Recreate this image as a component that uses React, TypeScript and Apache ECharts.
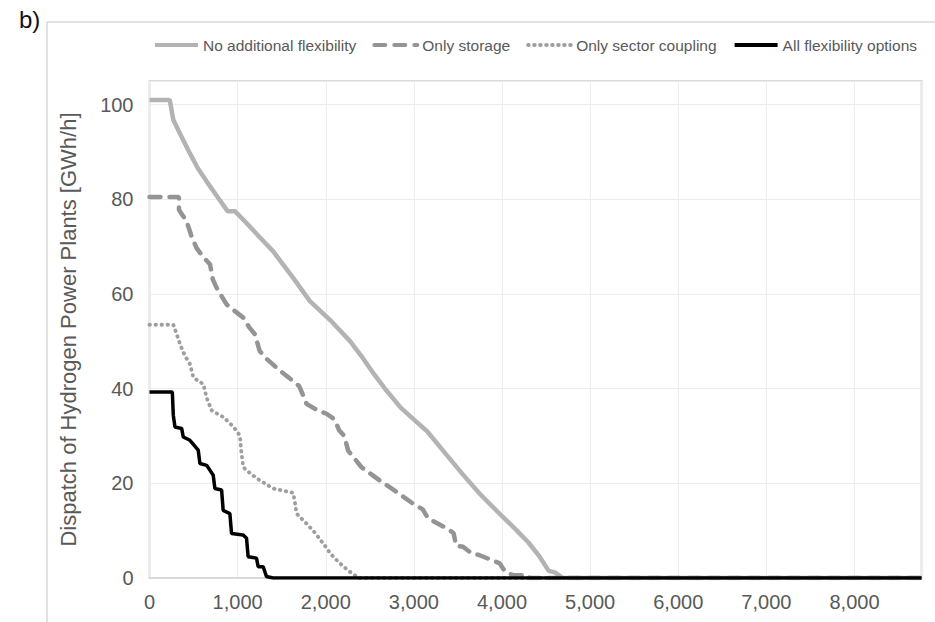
import React, { useEffect, useRef } from "react";
import * as echarts from "echarts";

const seriesNames = [
  "No additional flexibility",
  "Only storage",
  "Only sector coupling",
  "All flexibility options",
];

const noFlex: [number, number][] = [
  [0, 101], [230, 101], [270, 96.8], [330, 94.5], [459, 89.7], [550, 86.5],
  [648, 83.8], [760, 80.8], [886, 77.5], [969, 77.5], [1100, 75], [1250, 72],
  [1404, 69], [1630, 63.4], [1820, 58.5], [2050, 54.5], [2273, 50.1], [2400, 47],
  [2550, 43], [2689, 39.6], [2850, 36], [3010, 33.3], [3150, 31], [3331, 26.9],
  [3550, 22], [3747, 17.8], [3950, 14], [4163, 10.1], [4300, 7.5], [4427, 4.5],
  [4530, 1.5], [4600, 1.2], [4691, 0], [8760, 0],
];

const onlyStorage: [number, number][] = [
  [0, 80.5], [334, 80.5], [334, 77.8], [380, 76.5], [421, 75.4], [480, 72],
  [535, 69.7], [600, 68], [686, 66.3], [720, 63], [762, 61.3], [875, 57.8],
  [960, 56.5], [1064, 55], [1130, 53], [1196, 51.5], [1250, 48], [1310, 46.6],
  [1480, 43.8], [1650, 41.3], [1700, 40.5], [1782, 36.8], [1900, 35.5],
  [2009, 34.7], [2100, 33.5], [2152, 31.2], [2210, 30], [2254, 26.9],
  [2406, 23.4], [2613, 20.6], [2802, 18.2], [2991, 15.7], [3100, 14.5],
  [3161, 12.6], [3370, 10.5], [3450, 9.5], [3480, 6.8], [3558, 6.6],
  [3650, 5.3], [3747, 4.8], [3974, 3.1], [4011, 2.0], [4050, 1.2],
  [4125, 0.6], [4295, 0.6], [4310, 0], [8760, 0],
];

const onlySector: [number, number][] = [
  [0, 53.5], [270, 53.5], [300, 52], [346, 49.4], [400, 47], [459, 45.2],
  [497, 42.4], [560, 41.5], [610, 41], [650, 38], [705, 35.4], [760, 34.8],
  [837, 34], [950, 32], [1026, 30.1], [1040, 27], [1064, 23.4], [1150, 22],
  [1253, 20.6], [1404, 18.9], [1630, 18], [1650, 16], [1669, 13.6],
  [1782, 11.5], [1880, 9.5], [1971, 7.3], [2060, 5], [2160, 3.1],
  [2260, 1.5], [2349, 0.3], [2370, 0], [8760, 0],
];

const allFlex: [number, number][] = [
  [0, 39.3], [259, 39.3], [270, 34.4], [289, 31.9], [365, 31.6], [383, 29.8],
  [459, 29.1], [553, 27], [572, 24.2], [648, 23.8], [685, 22.8], [723, 21.7],
  [742, 18.9], [818, 18.6], [836, 14.3], [912, 13.6], [931, 9.4], [1063, 9.1],
  [1101, 8.4], [1119, 4.5], [1214, 4.2], [1233, 2.4], [1289, 2.4], [1328, 0.3],
  [1402, 0], [8760, 0],
];

const yTicks = { min: 0, max: 105, interval: 20 };
const xTicks = { min: 0, max: 8760, interval: 1000 };

const FONT = "'Liberation Sans', Arial, sans-serif";

export default function App() {
  const ref = useRef<HTMLDivElement>(null);
  useEffect(() => {
    if (!ref.current) return;
    const chart = echarts.init(ref.current, undefined, { renderer: "svg" });
    chart.setOption({
      animation: false,
      backgroundColor: "#ffffff",
      textStyle: { fontFamily: FONT },
      graphic: [
        {
          type: "line",
          shape: { x1: 47, y1: 22, x2: 47, y2: 622 },
          style: { stroke: "#c6c6c6", lineWidth: 1 },
        },
        {
          type: "line",
          shape: { x1: 47, y1: 22, x2: 935, y2: 22 },
          style: { stroke: "#c6c6c6", lineWidth: 1 },
        },
        {
          type: "text",
          left: 19,
          top: 7,
          style: { text: "b)", fontSize: 24, fill: "#111", fontFamily: FONT },
        },
      ],
      legend: {
        top: 32,
        right: 13,
        itemWidth: 43,
        itemHeight: 10,
        itemGap: 16,
        itemStyle: { opacity: 0 },
        lineStyle: { width: 4 },
        textStyle: { fontSize: 15.5, color: "#595959", fontFamily: FONT },
        data: seriesNames,
      },
      grid: {
        left: 149.5,
        right: 13.5,
        top: 81,
        bottom: 44,
        show: true,
        borderColor: "#d9d9d9",
        borderWidth: 2,
      },
      xAxis: {
        type: "value",
        min: xTicks.min,
        max: xTicks.max,
        interval: xTicks.interval,
        axisLine: { show: true, lineStyle: { color: "#d9d9d9", width: 2 } },
        axisTick: { show: false },
        splitLine: { show: true, lineStyle: { color: "#ececec", width: 1 } },
        axisLabel: {
          showMaxLabel: false,
          fontSize: 20,
          color: "#595959",
          margin: 14,
          fontFamily: FONT,
          formatter: (v: number) => v.toLocaleString("en-US"),
        },
      },
      yAxis: {
        type: "value",
        min: yTicks.min,
        max: yTicks.max,
        interval: yTicks.interval,
        name: "Dispatch of Hydrogen Power Plants [GWh/h]",
        nameLocation: "middle",
        nameGap: 70,
        nameTextStyle: { fontSize: 22, color: "#595959", fontFamily: FONT },
        axisLine: { show: false },
        axisTick: { show: false },
        splitLine: { show: true, lineStyle: { color: "#ececec", width: 1 } },
        axisLabel: {
          showMaxLabel: false,
          fontSize: 20,
          color: "#595959",
          margin: 16,
          fontFamily: FONT,
        },
      },
      series: [
        {
          name: seriesNames[0],
          type: "line",
          data: noFlex,
          symbol: "none",
          color: "#b3b3b3",
          lineStyle: { color: "#b3b3b3", width: 4.5, type: "solid" },
        },
        {
          name: seriesNames[1],
          type: "line",
          data: onlyStorage,
          symbol: "none",
          color: "#949494",
          lineStyle: { color: "#949494", width: 4.5, type: [11, 9], cap: "round" },
        },
        {
          name: seriesNames[2],
          type: "line",
          data: onlySector,
          symbol: "none",
          color: "#9e9e9e",
          lineStyle: { color: "#9e9e9e", width: 3.8, type: [0.5, 5.5], cap: "round" },
        },
        {
          name: seriesNames[3],
          type: "line",
          data: allFlex,
          symbol: "none",
          color: "#000000",
          lineStyle: { color: "#000000", width: 3.5, type: "solid" },
        },
      ],
    });
    return () => chart.dispose();
  }, []);
  return (
    <div
      ref={ref}
      style={{ position: "fixed", left: 0, top: 0, width: 935, height: 622 }}
    />
  );
}
